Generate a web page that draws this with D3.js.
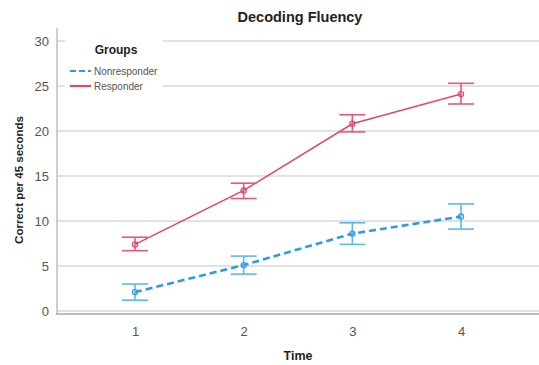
<!DOCTYPE html>
<html lang="en">
<head>
<meta charset="UTF-8">
<title>Decoding Fluency</title>
<script src="https://d3js.org/d3.v7.min.js"></script>
<style>
  body { margin: 0; background: #fff; }
  text { font-family: "Liberation Sans", Arial, sans-serif; }
</style>
</head>
<body>
<div class="canvas"></div>
<script>
// data
const times = [1, 2, 3, 4];
const groups = ['Nonresponder', 'Responder'];
const nonMean = [2.1, 5.1, 8.6, 10.5];
const nonLow  = [1.2, 4.1, 7.4, 9.1];
const nonHigh = [3.0, 6.1, 9.8, 11.9];
const resMean = [7.4, 13.4, 20.8, 24.1];
const resLow  = [6.7, 12.5, 19.9, 23.0];
const resHigh = [8.2, 14.2, 21.8, 25.3];
const yTicks = [0, 5, 10, 15, 20, 25, 30];

const width = 539, height = 365;
const colors = { Nonresponder: '#2f9be6', Responder: '#e2486c' };
const barColors = { Nonresponder: '#5db6f0', Responder: '#e45a79' };

const svg = d3.select('.canvas').append('svg')
  .attr('width', width).attr('height', height);

const x = d3.scaleLinear().domain([1, 4]).range([135, 461]);
const y = d3.scaleLinear().domain([0, 30]).range([311, 41]);

// gridlines
svg.append('g').selectAll('line').data(yTicks).enter().append('line')
  .attr('x1', 57).attr('x2', width)
  .attr('y1', d => y(d)).attr('y2', d => y(d))
  .attr('stroke', '#d9d9d9').attr('stroke-width', 1.3);

// axes
svg.append('line').attr('x1', 57).attr('x2', 57).attr('y1', 28).attr('y2', 314)
  .attr('stroke', '#b5b5b5').attr('stroke-width', 1.3);
svg.append('line').attr('x1', 56).attr('x2', width).attr('y1', 314).attr('y2', 314)
  .attr('stroke', '#a8a8a8').attr('stroke-width', 1.5);

const yAxis = svg.append('g').attr('transform', 'translate(57,0)')
  .call(d3.axisLeft(y).tickValues(yTicks).tickSize(0).tickPadding(8));
yAxis.select('.domain').remove();
yAxis.selectAll('text').attr('fill', '#555').style('font-size', '13px');

const xAxis = svg.append('g').attr('transform', 'translate(0,314)')
  .call(d3.axisBottom(x).tickValues(times).tickFormat(d3.format('d')).tickSize(0).tickPadding(13));
xAxis.select('.domain').remove();
xAxis.selectAll('text').attr('fill', '#555').style('font-size', '13px');

// titles
svg.append('text').attr('x', 300).attr('y', 22).attr('text-anchor', 'middle')
  .style('font-size', '14.5px').style('font-weight', 'bold').attr('fill', '#222')
  .text('Decoding Fluency');
svg.append('text').attr('x', 298).attr('y', 360).attr('text-anchor', 'middle')
  .style('font-size', '12.5px').style('font-weight', 'bold').attr('fill', '#222')
  .text('Time');
svg.append('text').attr('transform', 'translate(23,180) rotate(-90)')
  .attr('text-anchor', 'middle')
  .style('font-size', '11.5px').style('font-weight', 'bold').attr('fill', '#222')
  .text('Correct per 45 seconds');

// series
const series = [
  { name: 'Nonresponder', mean: nonMean, low: nonLow, high: nonHigh, dash: '7,4', w: 2.6 },
  { name: 'Responder', mean: resMean, low: resLow, high: resHigh, dash: null, w: 1.6 }
];

const line = d3.line().x((d, i) => x(times[i])).y(d => y(d));

series.forEach(s => {
  const g = svg.append('g');
  g.append('path').datum(s.mean)
    .attr('d', line).attr('fill', 'none')
    .attr('stroke', colors[s.name]).attr('stroke-width', s.w)
    .attr('stroke-dasharray', s.dash);

  const eb = g.selectAll('.eb').data(times).enter().append('g');
  eb.append('line')
    .attr('x1', (d) => x(d)).attr('x2', d => x(d))
    .attr('y1', (d, i) => y(s.low[i])).attr('y2', (d, i) => y(s.high[i]))
    .attr('stroke', barColors[s.name]).attr('stroke-width', 1.6);
  ['low', 'high'].forEach(k => {
    eb.append('line')
      .attr('x1', d => x(d) - 13).attr('x2', d => x(d) + 13)
      .attr('y1', (d, i) => y(s[k][i])).attr('y2', (d, i) => y(s[k][i]))
      .attr('stroke', barColors[s.name]).attr('stroke-width', 1.6);
  });
  eb.append('circle')
    .attr('cx', d => x(d)).attr('cy', (d, i) => y(s.mean[i]))
    .attr('r', 2.6).attr('fill', 'none')
    .attr('stroke', colors[s.name]).attr('stroke-width', 1.2);
});

// legend
const lg = svg.append('g');
lg.append('rect').attr('x', 65).attr('y', 33).attr('width', 98).attr('height', 62).attr('fill', '#fff');
lg.append('text').attr('x', 116).attr('y', 54).attr('text-anchor', 'middle')
  .style('font-size', '12px').style('font-weight', 'bold').attr('fill', '#222').text('Groups');
series.forEach((s, i) => {
  const yy = 71 + i * 15;
  lg.append('line').attr('x1', 70).attr('x2', 91).attr('y1', yy).attr('y2', yy)
    .attr('stroke', colors[s.name]).attr('stroke-width', 2.2)
    .attr('stroke-dasharray', s.dash ? '6,3' : null);
  lg.append('text').attr('x', 94).attr('y', yy + 3.5)
    .style('font-size', '10px').attr('fill', '#555').text(groups[i]);
});
</script>
</body>
</html>
